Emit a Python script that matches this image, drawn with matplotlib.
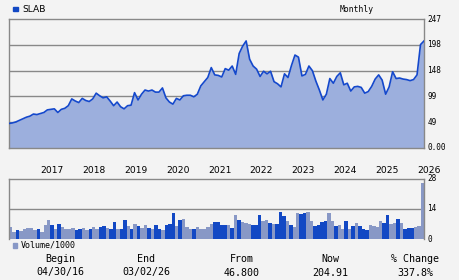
"""SLAB monthly price / volume chart"""

import numpy as np
import matplotlib.pyplot as plt

#%% data

ticker = 'SLAB'
years = ['2017', '2018', '2019', '2020', '2021', '2022', '2023', '2024', '2025', '2026']
year_idx = [9, 21, 33, 45, 57, 69, 81, 93, 105, 117]   # month index of each January

price = [47, 48, 50, 53, 56, 59, 61, 65, 64, 66,
         68, 73, 74, 75, 68, 74, 76, 81, 94, 90,
         87, 95, 91, 89, 94, 105, 100, 96, 98, 90,
         81, 88, 79, 75, 81, 82, 106, 92, 103, 111,
         109, 111, 107, 107, 115, 96, 88, 84, 95, 92,
         100, 101, 101, 98, 103, 119, 127, 135, 154, 140,
         139, 136, 152, 149, 157, 141, 181, 195, 205, 170,
         157, 151, 137, 147, 142, 147, 127, 123, 117, 142,
         135, 158, 178, 174, 138, 141, 157, 148, 128, 111,
         92, 103, 133, 124, 137, 144, 121, 124, 109, 117,
         118, 116, 105, 108, 118, 132, 140, 130, 103, 117,
         146, 133, 134, 132, 131, 129, 131, 140, 198, 204.91]

volume = [5.5, 3.4, 4.1, 3.7, 4.6, 5.0, 5.0, 4.3, 4.6, 3.4,
          6.7, 8.7, 6.3, 4.6, 6.9, 5.5, 4.6, 4.6, 5.0, 4.3,
          4.6, 5.0, 4.3, 4.6, 5.5, 4.6, 5.5, 6.0, 5.0, 4.6,
          7.8, 4.6, 4.6, 8.7, 6.0, 4.6, 6.9, 6.0, 5.0, 6.4,
          5.0, 4.6, 6.4, 4.6, 4.3, 6.4, 6.9, 11.9, 6.0, 8.7,
          9.2, 5.5, 4.6, 4.6, 5.5, 4.6, 4.6, 5.5, 6.9, 7.8,
          7.8, 6.4, 6.4, 6.4, 5.0, 11.0, 8.7, 7.8, 7.3, 6.9,
          6.4, 6.4, 11.0, 8.3, 8.7, 7.3, 6.9, 6.9, 12.4, 10.6,
          8.3, 6.4, 5.5, 11.9, 11.5, 11.9, 12.4, 8.3, 6.0, 6.4,
          7.8, 8.3, 11.9, 8.3, 6.0, 6.4, 4.6, 8.3, 4.6, 6.0,
          7.3, 6.0, 4.6, 4.1, 6.4, 6.0, 5.5, 8.3, 7.3, 11.0,
          6.9, 7.3, 9.2, 7.3, 4.6, 5.0, 5.0, 5.5, 6.0, 26.0]

# 1 = up month (dark bar), 0 = down month (light bar)
vol_up = [0, 0, 1, 0, 0, 0, 0, 0, 1, 0,
          0, 0, 1, 0, 1, 0, 0, 0, 0, 1,
          1, 0, 0, 1, 0, 0, 1, 1, 0, 1,
          1, 0, 1, 1, 0, 1, 0, 1, 0, 0,
          1, 0, 1, 1, 0, 1, 1, 1, 0, 1,
          0, 0, 0, 1, 0, 0, 0, 0, 0, 1,
          1, 1, 1, 0, 1, 0, 1, 0, 0, 0,
          1, 1, 1, 0, 0, 1, 0, 1, 1, 1,
          0, 1, 0, 0, 1, 1, 0, 0, 1, 1,
          1, 1, 0, 0, 1, 0, 0, 1, 0, 1,
          0, 1, 1, 1, 0, 0, 0, 0, 1, 1,
          0, 0, 1, 0, 1, 1, 1, 0, 0, 0]

price_ticks = [247, 197.6, 148.2, 98.8, 49.4]
price_tick_labels = ['247', '198', '148', '99', '49']
vol_ticks = [28, 14, 0]

summary_head = ['Begin', 'End', 'From', 'Now', '% Change']
summary_vals = ['04/30/16', '03/02/26', '46.800', '204.91', '337.8%']

#%% styles

bg = '#f3f3f3'
fill_c = '#9cafdd'
line_c = '#1448cc'
dark_c = '#1248c4'
light_c = '#8898c6'
grid_c = '#888888'
mono = 'DejaVu Sans Mono'

W, H = 460, 280
def fx(px): return px / W
def fy(py): return 1 - py / H

fig = plt.figure(figsize=(4.6, 2.8), dpi=100, facecolor=bg)

#%% price panel
ax = fig.add_axes([fx(9), fy(148), fx(424) - fx(9), fy(19) - fy(148)])
ax.set_facecolor(bg)
x = np.arange(len(price))
for t in price_ticks[1:]:
    ax.axhline(t, color=grid_c, lw=1.0, zorder=1)
ax.fill_between(x, price, 0, color=fill_c, lw=0, zorder=2)
ax.plot(x, price, color=line_c, lw=1.2, zorder=3)
ax.set_xlim(0, len(price) - 1)
ax.set_ylim(0, 247)
ax.set_xticks(year_idx)
ax.set_xticklabels(years, ha='left', fontsize=6.6)
ax.tick_params(axis='x', length=0, pad=13)
ax.set_yticks([])
for s in ax.spines.values():
    s.set_color(grid_c)
    s.set_linewidth(1.0)
for t, lab in zip(price_ticks, price_tick_labels):
    ax.text(1.008, t / 247, lab, transform=ax.transAxes, fontsize=5.6,
            family=mono, va='center', ha='left')
ax.text(1.008, 0, '0.00', transform=ax.transAxes, fontsize=5.6,
        family=mono, va='center', ha='left')

#%% volume panel
axv = fig.add_axes([fx(9), fy(239), fx(424) - fx(9), fy(178.5) - fy(239)])
axv.set_facecolor(bg)
xv = np.arange(len(volume))
cols = [dark_c if u else light_c for u in vol_up]
axv.axhline(14, color=grid_c, lw=1.0, zorder=1)
axv.bar(xv, volume, width=1.0, align='edge', color=cols, lw=0, zorder=2)
axv.set_xlim(0, len(volume))
axv.set_ylim(0, 28)
axv.set_xticks([])
axv.set_yticks([])
for s in axv.spines.values():
    s.set_color(grid_c)
    s.set_linewidth(1.0)
axv.spines['bottom'].set_visible(False)
for t in vol_ticks:
    axv.text(1.008, t / 28, str(t), transform=axv.transAxes, fontsize=5.6,
             family=mono, va='center', ha='left')

#%% header / legend text
fig.patches.append(plt.Rectangle((fx(13), fy(11)), fx(4.5), fy(6.5) - fy(11),
                                 transform=fig.transFigure, color=dark_c))
fig.text(fx(22.5), fy(9), ticker, fontsize=6.6, va='center', ha='left')
fig.text(fx(357), fy(9), 'Monthly', fontsize=5.8, family=mono,
         va='center', ha='center')

fig.patches.append(plt.Rectangle((fx(12.7), fy(247.5)), fx(4.5), fy(243) - fy(247.5),
                                 transform=fig.transFigure, color=light_c))
fig.text(fx(20.5), fy(245), 'Volume/1000', fontsize=6.0, family=mono,
         va='center', ha='left')

summary_x = [60, 146.5, 242, 330, 415]
for cx, head, val in zip(summary_x, summary_head, summary_vals):
    fig.text(fx(cx), fy(259), head, fontsize=7.2, family=mono, va='center', ha='center')
    fig.text(fx(cx), fy(272.5), val, fontsize=7.2, family=mono, va='center', ha='center')

fig.savefig('out.png', dpi=100, facecolor=bg)
